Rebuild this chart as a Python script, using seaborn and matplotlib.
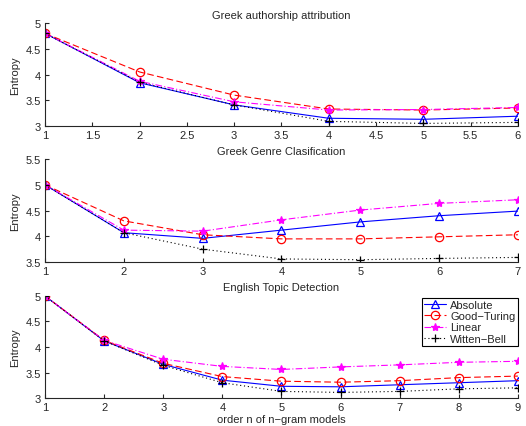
import pandas as pd
import matplotlib
matplotlib.use("Agg")
import matplotlib.pyplot as plt
import seaborn as sns

methods = ["Absolute", "Good\u2212Turing", "Linear", "Witten\u2212Bell"]

# Greek authorship attribution
auth_x = [1, 2, 3, 4, 5, 6]
auth_abs = [4.80, 3.84, 3.41, 3.15, 3.13, 3.19]
auth_gt = [4.80, 4.05, 3.60, 3.33, 3.31, 3.35]
auth_lin = [4.80, 3.87, 3.47, 3.31, 3.32, 3.36]
auth_wb = [4.80, 3.85, 3.41, 3.09, 3.05, 3.07]

# Greek genre classification
genre_x = [1, 2, 3, 4, 5, 6, 7]
genre_abs = [5.00, 4.07, 3.96, 4.12, 4.28, 4.40, 4.49]
genre_gt = [5.00, 4.30, 4.03, 3.95, 3.95, 3.99, 4.03]
genre_lin = [5.00, 4.12, 4.10, 4.32, 4.51, 4.64, 4.71]
genre_wb = [5.00, 4.07, 3.75, 3.56, 3.545, 3.57, 3.59]

# English topic detection
topic_x = [1, 2, 3, 4, 5, 6, 7, 8, 9]
topic_abs = [5.00, 4.12, 3.66, 3.35, 3.23, 3.22, 3.26, 3.30, 3.34]
topic_gt = [5.00, 4.13, 3.68, 3.42, 3.33, 3.31, 3.34, 3.40, 3.43]
topic_lin = [5.00, 4.13, 3.76, 3.62, 3.56, 3.61, 3.65, 3.70, 3.72]
topic_wb = [5.00, 4.12, 3.64, 3.30, 3.13, 3.11, 3.13, 3.18, 3.20]

sns.set_style("ticks")
plt.rcParams["font.family"] = ["Liberation Sans", "DejaVu Sans"]
plt.rcParams["xtick.direction"] = "in"
plt.rcParams["ytick.direction"] = "in"

styles = {
    "Absolute": dict(color="blue", linestyle="-", marker="^", markerfacecolor="none",
                     markeredgecolor="blue", markersize=6),
    "Good\u2212Turing": dict(color="red", linestyle=(0, (6, 3)), marker="o", markerfacecolor="none",
                             markeredgecolor="red", markersize=6),
    "Linear": dict(color="magenta", linestyle=(0, (6, 2, 1, 2)), marker="*", markerfacecolor="magenta",
                   markeredgecolor="magenta", markersize=6),
    "Witten\u2212Bell": dict(color="black", linestyle=(0, (1, 2.5)), marker="+", markerfacecolor="none",
                             markeredgecolor="black", markersize=6),
}

panels = [
    ("Greek authorship attribution", auth_x, [auth_abs, auth_gt, auth_lin, auth_wb],
     (3, 5), [3, 3.5, 4, 4.5, 5], [1, 1.5, 2, 2.5, 3, 3.5, 4, 4.5, 5, 5.5, 6]),
    ("Greek Genre Clasification", genre_x, [genre_abs, genre_gt, genre_lin, genre_wb],
     (3.5, 5.5), [3.5, 4, 4.5, 5, 5.5], genre_x),
    ("English Topic Detection", topic_x, [topic_abs, topic_gt, topic_lin, topic_wb],
     (3, 5), [3, 3.5, 4, 4.5, 5], topic_x),
]

fig = plt.figure(figsize=(5.26, 4.27), dpi=100)
boxes = [
    [0.0856, 0.7026, 0.899, 0.241],
    [0.0856, 0.3840, 0.899, 0.241],
    [0.0856, 0.0655, 0.899, 0.239],
]

for box, (title, xs, series, ylim, yticks, xticks) in zip(boxes, panels):
    ax = fig.add_axes(box)
    for name, ys in zip(methods, series):
        df = pd.DataFrame({"x": xs, "y": ys})
        sns.lineplot(data=df, x="x", y="y", ax=ax, label=name, linewidth=0.8,
                     markeredgewidth=0.9, **styles[name])
    ax.set_xlim(xs[0], xs[-1])
    ax.set_ylim(*ylim)
    ax.set_xticks(xticks)
    ax.set_xticklabels([f"{t:g}" for t in xticks])
    ax.set_yticks(yticks)
    ax.set_yticklabels([f"{t:g}" for t in yticks])
    ax.tick_params(labelsize=8, length=3, width=0.8, pad=3)
    ax.set_title(title, fontsize=8, pad=4)
    ax.set_ylabel("Entropy", fontsize=8, labelpad=4)
    ax.set_xlabel("")
    sns.despine(ax=ax)
    for sp in ax.spines.values():
        sp.set_linewidth(0.8)
    leg = ax.get_legend()
    if leg is not None:
        leg.remove()
    last_ax = ax

last_ax.set_xlabel("order n of n\u2212gram models", fontsize=8, labelpad=1)
leg = last_ax.legend(loc="upper right", bbox_to_anchor=(1.0, 0.98), fontsize=8,
                     frameon=True, fancybox=False, edgecolor="black", framealpha=1,
                     borderpad=0.2, labelspacing=0.1, handlelength=2.0, handletextpad=0.4,
                     borderaxespad=0.0)
leg.get_frame().set_linewidth(0.8)

fig.savefig("out.png", dpi=100)
